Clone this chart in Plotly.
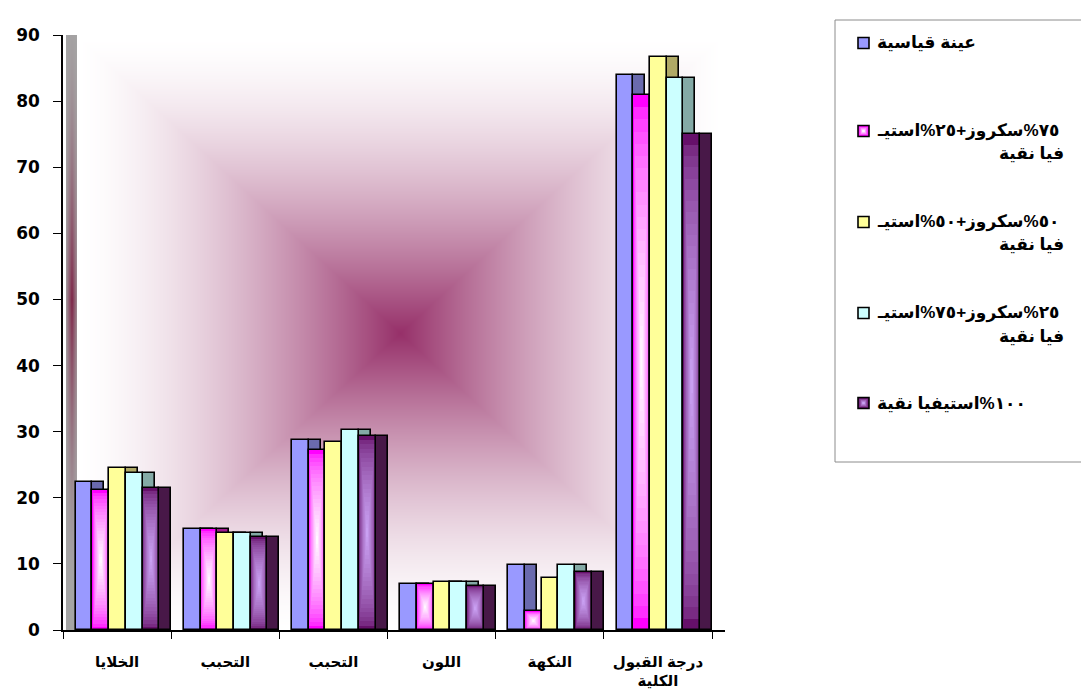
import base64
import struct
import zlib

import numpy as np
import plotly.graph_objects as go

# ---- data ----
categories = ["الخلايا", "التحبب", "التحبب", "اللون", "النكهة", "درجة القبول<br>الكلية"]
series_names = [
    ["عينة قياسية"],
    ["٧٥%سكروز+٢٥%استيـ", "فيا نقية"],
    ["٥٠%سكروز+٥٠%استيـ", "فيا نقية"],
    ["٢٥%سكروز+٧٥%استيـ", "فيا نقية"],
    ["١٠٠%استيفيا نقية"],
]
control = [22.4, 15.3, 28.7, 6.9, 9.8, 84.0]
mix_75_25 = [21.2, 15.3, 27.3, 6.9, 2.8, 80.9]
mix_50_50 = [24.5, 14.6, 28.5, 7.3, 7.8, 86.6]
mix_25_75 = [23.7, 14.6, 30.3, 7.3, 9.8, 83.5]
stevia_100 = [21.5, 14.1, 29.4, 6.6, 8.8, 75.1]
series_values = [control, mix_75_25, mix_50_50, mix_25_75, stevia_100]

# front colour (edge, centre) and side colour for every series
front_edge = ["#9999ff", "#ff00ff", "#ffff99", "#ccffff", "#66106a"]
front_centre = [None, "#fff6ff", None, None, "#c9a0f2"]
side_color = ["#6a6aae", "#a01a8e", "#b0aa66", "#84aaa6", "#481848"]

# ---- geometry (pixels of the page) ----
W, H = 1081, 689
PL, PR, PT, PB = 63, 725, 35, 630
X_MIN, X_MAX = -0.5, 5.62
unit = (PR - PL) / (X_MAX - X_MIN)
bar_w = 16.7 / unit
depth_w = 12.0 / unit
group_start = -0.5 + 12.7 / unit


def hex_rgb(h):
    h = h.lstrip("#")
    return np.array([int(h[i:i + 2], 16) for i in (0, 2, 4)], dtype=float)


def mix(c1, c2, f):
    c = hex_rgb(c1) * (1 - f) + hex_rgb(c2) * f
    return "rgb(%d,%d,%d)" % tuple(np.round(c).astype(int))


def png_uri(arr):
    h, w, _ = arr.shape
    raw = b"".join(b"\x00" + arr[r].tobytes() for r in range(h))

    def chunk(tag, data):
        c = struct.pack(">I", len(data)) + tag + data
        return c + struct.pack(">I", zlib.crc32(tag + data) & 0xFFFFFFFF)

    png = b"\x89PNG\r\n\x1a\n"
    png += chunk(b"IHDR", struct.pack(">IIBBBBB", w, h, 8, 2, 0, 0, 0))
    png += chunk(b"IDAT", zlib.compress(raw, 9))
    png += chunk(b"IEND", b"")
    return "data:image/png;base64," + base64.b64encode(png).decode()


# ---- background: centre-out wall gradient plus left side wall ----
bw, bh = PR - PL, PB - PT
yy, xx = np.mgrid[0:bh, 0:bw].astype(float)
cx, cy = 400 - PL, 333 - PT
t = np.maximum(np.abs(xx - cx) / 324.0, np.abs(yy - cy) / 298.0)
t = np.clip(t, 0, 1)
f = 1 - (1 - t) ** 1.55
centre = np.array([150, 48, 105], dtype=float)
white = np.array([255, 255, 255], dtype=float)
img = centre[None, None, :] * (1 - f[..., None]) + white[None, None, :] * f[..., None]
# left side wall (grey, tinted toward the middle)
wall_x0, wall_x1 = 66 - PL, 77 - PL
g = np.clip(1 - np.abs(yy[:, 0] - (300 - PT)) / 300.0, 0, 1) ** 1.6
for col in range(wall_x0, wall_x1):
    k = 1 - abs(col - (wall_x0 + wall_x1) / 2) / ((wall_x1 - wall_x0) / 2 + 1)
    gg = (g * k)[:, None]
    grey = np.array([165, 165, 165], dtype=float)
    maroon = np.array([125, 35, 70], dtype=float)
    img[:, col, :] = grey * (1 - gg) + maroon * gg
img[:, :wall_x0, :] = 255
bg_uri = png_uri(np.clip(np.round(img), 0, 255).astype(np.uint8))

fig = go.Figure()
xs = list(range(len(categories)))
n_layers = 22

for i, vals in enumerate(series_values):
    off = group_start + i * bar_w
    # visible right-hand side face of the 3-D bar
    fig.add_trace(go.Bar(
        x=xs, y=vals, offset=off + bar_w, width=depth_w,
        marker=dict(color=side_color[i], line=dict(color="black", width=1.6)),
        showlegend=False, hoverinfo="skip",
    ))
    if front_centre[i] is None:
        fig.add_trace(go.Bar(
            x=xs, y=vals, offset=off, width=bar_w,
            marker=dict(color=front_edge[i], line=dict(width=0)),
            showlegend=False, hovertemplate="%{y}<extra></extra>",
        ))
    else:
        # rectangular gradient from the centre of each front face
        for k in range(n_layers):
            s = k / n_layers
            fig.add_trace(go.Bar(
                x=xs, y=[v * (1 - s) for v in vals], base=[v * s / 2 for v in vals],
                offset=off + bar_w * s / 2, width=bar_w * (1 - s),
                marker=dict(color=mix(front_edge[i], front_centre[i],
                                      (k / (n_layers - 1)) ** 0.55),
                            line=dict(width=0)),
                showlegend=False, hoverinfo="skip",
            ))
    fig.add_trace(go.Bar(
        x=xs, y=vals, offset=off, width=bar_w,
        marker=dict(color="rgba(0,0,0,0)", line=dict(color="black", width=1.6)),
        showlegend=False, hoverinfo="skip",
    ))


def px_x(p):
    return (p - PL) / (PR - PL)


def px_y(p):
    return (PB - p) / (PB - PT)


shapes = []
annotations = []
# legend frame
shapes.append(dict(type="rect", xref="paper", yref="paper",
                   x0=px_x(835), x1=px_x(1090), y0=px_y(462), y1=px_y(20),
                   line=dict(color="#8c8c8c", width=1), fillcolor="white", layer="below"))
legend_rows = [43, 131, 222, 313, 403]
font_ar = "Arial, 'DejaVu Sans', sans-serif"
for i, names in enumerate(series_names):
    yc = legend_rows[i]
    x0, x1 = 858, 869
    if front_centre[i] is None:
        shapes.append(dict(type="rect", xref="paper", yref="paper",
                           x0=px_x(x0), x1=px_x(x1), y0=px_y(yc + 5.5), y1=px_y(yc - 5.5),
                           line=dict(color="black", width=1.6), fillcolor=front_edge[i]))
    else:
        steps = 4
        for k in range(steps):
            d = 5.5 * (1 - k / steps)
            shapes.append(dict(type="rect", xref="paper", yref="paper",
                               x0=px_x(863.5 - d), x1=px_x(863.5 + d),
                               y0=px_y(yc + d), y1=px_y(yc - d),
                               line=dict(width=0),
                               fillcolor=mix(front_edge[i], front_centre[i], k / (steps - 1))))
        shapes.append(dict(type="rect", xref="paper", yref="paper",
                           x0=px_x(x0), x1=px_x(x1), y0=px_y(yc + 5.5), y1=px_y(yc - 5.5),
                           line=dict(color="black", width=1.6), fillcolor="rgba(0,0,0,0)"))
    annotations.append(dict(xref="paper", yref="paper", x=px_x(875), y=px_y(yc),
                            xanchor="left", yanchor="middle", showarrow=False,
                            text=names[0],
                            font=dict(family=font_ar, size=17, color="black", weight="bold")))
    if len(names) > 1:
        annotations.append(dict(xref="paper", yref="paper", x=px_x(1066), y=px_y(yc + 23),
                                xanchor="right", yanchor="middle", showarrow=False,
                                text=names[1],
                                font=dict(family=font_ar, size=17, color="black", weight="bold")))

fig.update_layout(
    width=W, height=H,
    margin=dict(l=PL, r=W - PR, t=PT, b=H - PB, autoexpand=False),
    paper_bgcolor="white", plot_bgcolor="rgba(0,0,0,0)",
    barmode="overlay", bargap=0,
    showlegend=False,
    shapes=shapes, annotations=annotations,
    images=[dict(source=bg_uri, xref="paper", yref="paper", x=0, y=1,
                 sizex=1, sizey=1, sizing="stretch", layer="below",
                 xanchor="left", yanchor="top")],
    xaxis=dict(
        range=[X_MIN, X_MAX], tickmode="array", tickvals=xs,
        ticktext=categories, automargin=False,
        ticks="", showgrid=False, zeroline=False,
        showline=True, linecolor="black", linewidth=1.5,
        tickfont=dict(family=font_ar, size=15, color="black", weight="bold"),
        ticklabelstandoff=17,
        minor=dict(tickmode="array", tickvals=[x - 0.5 for x in range(len(categories) + 1)],
                   ticks="outside", ticklen=7, tickcolor="black", tickwidth=1.2, showgrid=False),
    ),
    yaxis=dict(
        range=[0, 90], tickmode="array", tickvals=list(range(0, 91, 10)),
        automargin=False,
        ticks="outside", ticklen=8, tickcolor="black", tickwidth=1.2,
        showgrid=False, zeroline=False,
        showline=True, linecolor="black", linewidth=1.5,
        tickfont=dict(family="'DejaVu Sans', Verdana, sans-serif", size=17, color="black",
                      weight="bold"),
        ticklabelstandoff=10,
    ),
)

fig.write_html("out.html")
